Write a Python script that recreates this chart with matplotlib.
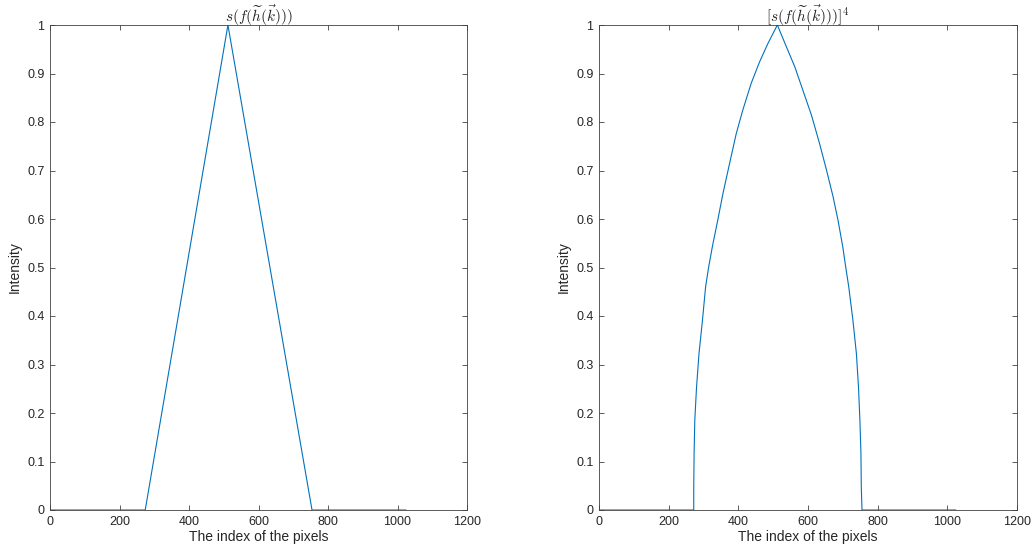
import matplotlib
matplotlib.use("Agg")
import matplotlib.pyplot as plt
from matplotlib.ticker import FuncFormatter

# ---- data ----
tri_x = [0, 274, 512, 754, 1024]
tri_y = [0, 0, 1.0, 0, 0]

pow_x = [0, 272, 272, 273, 275, 280, 287, 297, 306, 315, 326, 341, 356, 375, 394,
         413, 437, 461, 485, 512, 538, 562, 585, 610, 633, 652, 672, 686, 700, 707,
         717, 729, 739, 745, 749, 752, 753, 755, 1024]
pow_y = [0, 0, 0.047, 0.116, 0.185, 0.253, 0.322, 0.391, 0.460, 0.502, 0.545, 0.598,
         0.653, 0.715, 0.776, 0.825, 0.880, 0.924, 0.962, 1.0, 0.955, 0.914, 0.866,
         0.814, 0.756, 0.704, 0.646, 0.598, 0.542, 0.507, 0.460, 0.391, 0.322, 0.253,
         0.185, 0.116, 0.047, 0, 0]

titles = [r"$s(f(\widetilde{h}(\vec{k})))$", r"$[s(f(\widetilde{h}(\vec{k})))]^4$"]
xticks = [0, 200, 400, 600, 800, 1000, 1200]
yticks = [0, 0.1, 0.2, 0.3, 0.4, 0.5, 0.6, 0.7, 0.8, 0.9, 1.0]
xlabel = "The index of the pixels"
ylabel = "Intensity"

plt.rcParams['font.family'] = ['Liberation Sans', 'DejaVu Sans']
plt.rcParams['mathtext.fontset'] = 'cm'

W, H = 1035, 556
fig = plt.figure(figsize=(W / 100, H / 100), dpi=100)

axcol = '#404040'
linecol = '#0072BD'
boxes = [(50, 467), (599, 1017)]
top, bottom = 25, 510
series = [(tri_x, tri_y), (pow_x, pow_y)]

for (l, r), (xs, ys), t in zip(boxes, series, titles):
    ax = fig.add_axes([l / W, 1 - bottom / H, (r - l) / W, (bottom - top) / H])
    ax.plot(xs, ys, color=linecol, lw=0.8)
    ax.set_xlim(0, 1200)
    ax.set_ylim(0, 1)
    ax.set_xticks(xticks)
    ax.set_yticks(yticks)
    ax.yaxis.set_major_formatter(FuncFormatter(lambda v, p: f"{v:g}"))
    ax.tick_params(direction='in', top=True, right=True, length=3.6, width=0.6,
                   colors=axcol, labelsize=9, labelcolor='#262626', pad=4)
    for s in ax.spines.values():
        s.set_color(axcol)
        s.set_linewidth(0.6)
    ax.set_title(t, fontsize=11, pad=2, color='#262626')
    ax.set_xlabel(xlabel, fontsize=10, color='#262626', labelpad=2)
    ax.set_ylabel(ylabel, fontsize=10, color='#262626', labelpad=4)

fig.savefig("out.png", dpi=100)
